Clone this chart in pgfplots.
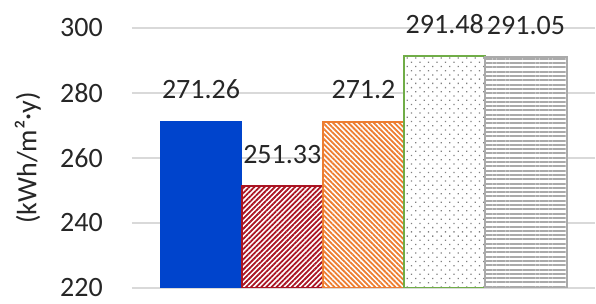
\documentclass[border=0pt]{standalone}
\usepackage{fontspec}
\setmainfont{Carlito}
\usepackage{pgfplots}
\pgfplotsset{compat=1.18}
\usetikzlibrary{patterns.meta}
\definecolor{cblue}{RGB}{0,68,204}
\definecolor{cdred}{RGB}{170,20,35}
\definecolor{corange}{RGB}{237,125,49}
\definecolor{cgreen}{RGB}{112,173,71}
\definecolor{cgray}{RGB}{170,170,170}
\definecolor{cgrid}{RGB}{217,217,217}
\begin{document}
\begin{tikzpicture}
\useasboundingbox (-132pt,-16pt) rectangle (464pt,288pt);
\begin{axis}[
  at={(0,0)}, anchor=south west,
  scale only axis, width=463pt, height=260pt,
  xmin=-0.85, xmax=4.85, ymin=220, ymax=300,
  ytick={220,240,...,300}, xtick=\empty,
  ymajorgrids, grid style={draw=cgrid, line width=1.3pt},
  axis line style={draw=none}, major tick length=0pt,
  /pgf/number format/assume math mode=true,
  font=\fontsize{28}{32}\selectfont,
  yticklabel style={anchor=east, inner sep=0pt, xshift=-29pt, text=black!85},
  ylabel={(kWh/m²·y)},
  ylabel style={at={(axis description cs:-0.225,0.5)}, anchor=center, text=black!85},
  ybar, bar width=1, clip mode=individual,
  point meta=explicit symbolic,
  nodes near coords,
  every node near coord/.append style={anchor=center, yshift=32pt, text=black!85, font=\fontsize{28}{32}\selectfont},
]
\addplot[bar shift=0pt, fill=cblue, draw=cblue, line width=1pt] coordinates {(0,271.26) [271.26]};
\addplot[bar shift=0pt, fill=white, draw=cdred, line width=2pt,
  postaction={pattern={Lines[angle=45,distance=3.6pt,line width=1.8pt]}, pattern color=cdred}] coordinates {(1,251.33) [251.33]};
\addplot[bar shift=0pt, fill=white, draw=corange, line width=2pt,
  postaction={pattern={Lines[angle=-45,distance=3.6pt,line width=1.8pt]}, pattern color=corange}] coordinates {(2,271.2) [271.2]};
\addplot[bar shift=0pt, fill=white, draw=cgreen, line width=2pt,
  postaction={pattern={Dots[angle=45,distance=6pt,radius=0.9pt]}, pattern color=gray}] coordinates {(3,291.48) [291.48]};
\addplot[bar shift=0pt, fill=white, draw=cgray, line width=2pt,
  postaction={pattern={Lines[angle=0,distance=4.3pt,line width=2pt]}, pattern color=cgray}] coordinates {(4,291.05) [291.05]};
\end{axis}
\end{tikzpicture}
\end{document}
